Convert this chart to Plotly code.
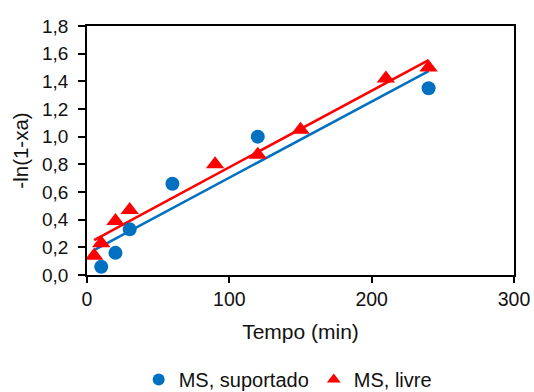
import numpy as np
import plotly.graph_objects as go

# Data
x_suportado = [10, 20, 30, 60, 120, 240]
y_suportado = [0.06, 0.16, 0.33, 0.66, 1.00, 1.35]

x_livre = [5, 10, 20, 30, 90, 120, 150, 210, 240]
y_livre = [0.14, 0.23, 0.39, 0.47, 0.80, 0.87, 1.05, 1.42, 1.50]

trend_range = [5, 240]

blue = "#0070C0"
red = "#FF0000"
font_family = "Liberation Sans, Arial, sans-serif"

def fit_line(xs, ys, xr):
    m, b = np.polyfit(xs, ys, 1)
    return xr, [m * v + b for v in xr]

fig = go.Figure()

tx, ty = fit_line(x_suportado, y_suportado, trend_range)
fig.add_trace(go.Scatter(x=tx, y=ty, mode="lines", line=dict(color=blue, width=2.5),
                         showlegend=False, hoverinfo="skip"))
tx, ty = fit_line(x_livre, y_livre, trend_range)
fig.add_trace(go.Scatter(x=tx, y=ty, mode="lines", line=dict(color=red, width=2.5),
                         showlegend=False, hoverinfo="skip"))

fig.add_trace(go.Scatter(x=x_suportado, y=y_suportado, mode="markers", name="MS, suportado",
                         marker=dict(symbol="circle", size=14, color=blue)))
fig.add_trace(go.Scatter(x=x_livre, y=y_livre, mode="markers", name="MS, livre",
                         marker=dict(symbol="triangle-up", size=16, color=red)))

fig.update_layout(
    width=534, height=392,
    margin=dict(l=87, r=20, t=26, b=117, autoexpand=False),
    paper_bgcolor="white", plot_bgcolor="white",
    separators=",.",
    font=dict(family=font_family, size=19, color="#111111"),
    showlegend=True,
    legend=dict(orientation="h", x=0.47, xanchor="center", y=-0.42, yanchor="middle",
                font=dict(size=20), itemsizing="constant", tracegroupgap=0,
                itemwidth=30),
)

fig.update_xaxes(range=[0, 300], tickvals=[0, 100, 200, 300], showgrid=False, zeroline=False,
                 showline=True, linecolor="black", linewidth=1.5, mirror=True,
                 ticks="outside", ticklen=6, tickcolor="black", tickwidth=1.5,
                 tickfont=dict(size=19.5),
                 title=dict(text="Tempo (min)", font=dict(size=21), standoff=15))
fig.update_yaxes(range=[0, 1.8], dtick=0.2, tickformat=".1f", showgrid=False, zeroline=False,
                 showline=True, linecolor="black", linewidth=1.5, mirror=True,
                 ticks="outside", ticklen=7, tickcolor="black", tickwidth=1.5,
                 tickfont=dict(size=19), ticklabelstandoff=6,
                 title=dict(text="-ln(1-xa)", font=dict(size=20.5), standoff=8))

fig.write_html("out.html")
